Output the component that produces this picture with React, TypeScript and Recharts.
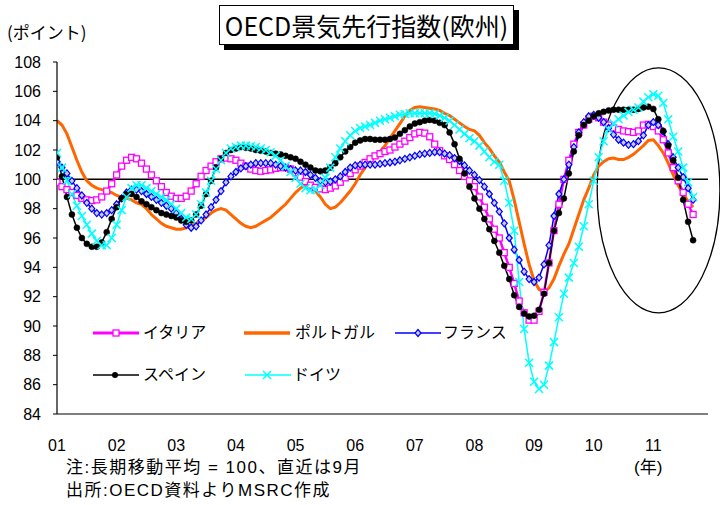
import React from 'react';
import { LineChart, Line, XAxis, YAxis, ReferenceLine, ReferenceArea, Legend } from 'recharts';

// Monthly values, Jan 2001 .. Sep 2011 (index 0 = 2001/01)
const italy = [
  99.8, 99.5, 99.3, 99.1, 98.9, 98.7, 98.6, 98.55, 98.6, 98.8, 99.2, 99.7,
  100.3, 100.9, 101.3, 101.5, 101.4, 101.1, 100.7, 100.3, 99.9, 99.5, 99.1, 98.85,
  98.7, 98.7, 98.85, 99.2, 99.7, 100.2, 100.6, 100.9, 101.2, 101.4, 101.45, 101.4,
  101.3, 101.1, 100.9, 100.7, 100.6, 100.55, 100.6, 100.65, 100.75, 100.8, 100.8, 100.7,
  100.45, 100.15, 99.85, 99.6, 99.45, 99.35, 99.3, 99.4, 99.55, 99.8, 100.1, 100.4,
  100.65, 100.9, 101.15, 101.4, 101.6, 101.75, 101.9, 102.0, 102.2, 102.4, 102.6, 102.85,
  103.1, 103.2, 103.15, 102.9, 102.4, 101.95, 101.6, 101.35, 101.0, 100.6, 100.2, 99.9,
  99.5, 98.8, 98.1, 97.3, 96.6, 96.0, 95.0, 94.0, 92.9, 91.7, 90.9, 90.4,
  90.4, 91.0, 92.3, 94.3, 96.5, 98.3, 100.0, 101.3, 102.4, 103.2, 103.7, 104.1,
  104.3, 104.2, 103.9, 103.7, 103.5, 103.4, 103.3, 103.25, 103.2, 103.3, 103.7, 103.75,
  103.6, 103.3, 102.7, 101.8, 100.8, 99.9, 99.1, 98.3, 97.6,
];

const portugal = [
  104.0, 103.7, 103.1, 102.2, 101.3, 100.5, 99.9, 99.6, 99.4, 99.3, 99.2, 99.1,
  98.9, 98.8, 98.7, 98.6, 98.4, 98.3, 98.0, 97.6, 97.3, 97.0, 96.8, 96.7,
  96.6, 96.6, 96.7, 96.8, 97.0, 97.2, 97.4, 97.7, 97.9, 98.0, 97.9, 97.6,
  97.3, 97.0, 96.8, 96.7, 96.8, 97.0, 97.2, 97.4, 97.7, 98.0, 98.3, 98.7,
  99.1, 99.4, 99.6, 99.5, 99.2, 98.8, 98.3, 98.0, 98.1, 98.4, 98.8, 99.2,
  99.7, 100.3, 100.8, 101.2, 101.6, 101.9, 102.3, 102.8, 103.3, 103.8, 104.3, 104.7,
  104.9, 104.95, 104.9, 104.85, 104.8, 104.7, 104.5, 104.35, 104.1, 103.85, 103.6, 103.4,
  103.3, 103.0, 102.5, 102.1, 101.6, 101.2, 100.5, 99.9, 98.6, 97.1, 95.6, 94.2,
  93.1, 92.5, 92.3, 92.6, 93.2, 94.1, 94.9, 95.6, 96.6, 97.6, 98.6, 99.4,
  100.3, 100.9, 101.2, 101.4, 101.45, 101.35, 101.35, 101.5, 101.7, 102.0, 102.3, 102.65,
  102.7, 102.3, 101.8, 101.1, 100.3, 99.6, 99.0, 98.5, 98.1,
];

const france = [
  101.2, 100.8, 100.4, 99.9, 99.4, 98.9, 98.4, 98.0, 97.7, 97.6, 97.7, 97.9,
  98.3, 98.7, 99.1, 99.3, 99.3, 99.2, 99.0, 98.8, 98.6, 98.4, 98.2, 98.0,
  97.7, 97.3, 96.9, 96.7, 96.8, 97.2, 97.6, 98.1, 98.6, 99.2, 99.8, 100.2,
  100.5, 100.75, 100.9, 101.0, 101.1, 101.1, 101.1, 101.1, 101.0, 100.9, 100.8, 100.7,
  100.6, 100.6, 100.5, 100.3, 100.1, 99.9, 99.8, 99.85, 100.0, 100.2, 100.5, 100.8,
  100.95, 101.0, 101.0, 101.0, 101.0, 101.05, 101.1, 101.15, 101.2, 101.3, 101.4, 101.5,
  101.6, 101.7, 101.75, 101.8, 101.85, 101.85, 101.75, 101.65, 101.45, 101.25, 100.95, 100.6,
  100.3, 99.95, 99.5, 99.0, 98.4, 97.8, 97.0, 96.0, 95.2, 94.5, 93.7, 93.2,
  93.0, 93.3, 94.2, 95.5, 97.5, 99.0, 100.0, 101.0, 102.2, 103.2, 103.9, 104.3,
  104.4, 104.2, 103.9, 103.5, 103.05, 102.7, 102.5, 102.35, 102.4, 102.6, 103.0, 103.7,
  103.9, 103.7, 103.25, 102.4, 101.5, 100.8, 100.15, 99.4, 98.6,
];

const spain = [
  101.5, 100.2, 98.8, 97.6, 96.7, 96.0, 95.6, 95.4, 95.4, 95.7, 96.4, 97.3,
  98.1, 98.7, 99.0, 99.0, 98.8, 98.5, 98.3, 98.1, 97.9, 97.7, 97.6, 97.5,
  97.4, 97.2, 97.1, 97.2, 97.6, 98.2, 99.0, 99.9, 100.8, 101.4, 101.8, 102.0,
  102.1, 102.2, 102.15, 102.1, 102.0, 101.95, 101.9, 101.8, 101.75, 101.7, 101.6, 101.5,
  101.4, 101.2, 101.0, 100.8, 100.6, 100.55, 100.6, 100.8, 101.1, 101.5, 101.9, 102.2,
  102.5, 102.65, 102.75, 102.75, 102.7, 102.7, 102.7, 102.75, 102.85, 103.1, 103.35, 103.6,
  103.8, 103.9, 104.0, 104.05, 104.0, 103.85, 103.7, 103.2, 102.4, 101.4, 100.4, 99.5,
  98.7, 98.0, 97.3, 96.6, 95.8, 95.0, 94.1, 93.2, 92.1, 91.3, 90.85, 90.65,
  90.7, 91.1, 92.2, 94.3, 96.5, 97.7, 98.7, 100.4, 101.9, 103.0, 103.7, 104.0,
  104.3, 104.5, 104.6, 104.7, 104.75, 104.75, 104.75, 104.75, 104.75, 104.8, 104.9, 104.95,
  104.8, 104.1, 103.3, 102.3, 101.3, 100.1, 98.6, 97.1, 95.85,
];

const germany = [
  101.8, 100.8, 99.9, 99.0, 98.2, 97.5, 96.9, 96.3, 95.8, 95.5, 95.5, 96.0,
  96.9, 97.9, 98.8, 99.4, 99.6, 99.6, 99.4, 99.2, 99.0, 98.8, 98.6, 98.3,
  98.0, 97.7, 97.4, 97.3, 97.6, 98.3, 99.1, 99.9, 100.7, 101.3, 101.8, 102.1,
  102.2, 102.3, 102.3, 102.25, 102.2, 102.1, 102.0, 101.85, 101.6, 101.3, 100.9, 100.5,
  100.1, 99.7, 99.4, 99.25, 99.3, 99.6, 100.1, 100.8, 101.5, 102.1, 102.6, 103.0,
  103.3, 103.5, 103.6, 103.7, 103.85, 104.0, 104.1, 104.2, 104.3, 104.4, 104.45, 104.5,
  104.5, 104.5, 104.5, 104.5, 104.45, 104.35, 104.2, 104.0, 103.7, 103.4, 103.1, 102.8,
  102.6, 102.3, 101.9, 101.5, 101.2, 101.0, 99.9, 98.4, 96.5, 93.0, 89.8, 87.5,
  86.2, 85.7, 86.0, 87.3, 88.9, 90.6, 92.2, 93.3, 94.3, 95.4, 96.8, 98.3,
  99.9, 101.5, 102.6, 103.4, 103.8, 104.1, 104.35, 104.6, 104.75, 104.9, 105.3, 105.6,
  105.8, 105.7, 105.2, 104.1, 102.9, 101.9, 100.8, 99.8, 98.8,
];

const yearTicks = [0, 12, 24, 36, 48, 60, 72, 84, 96, 108, 120];
const yearLabels = ['01', '02', '03', '04', '05', '06', '07', '08', '09', '10', '11'];
const yTicks = [84, 86, 88, 90, 92, 94, 96, 98, 100, 102, 104, 106, 108];

const seriesNames = ['イタリア', 'ポルトガル', 'フランス', 'スペイン', 'ドイツ'];

const data = italy.map((v, i) => ({
  m: i,
  italy: v,
  portugal: portugal[i],
  france: france[i],
  spain: spain[i],
  germany: germany[i],
}));

const MAGENTA = '#FF00FF';
const ORANGE = '#FF6600';
const BLUE = '#0000FF';
const CYAN = '#00FFFF';

const SquareDot = (p: any) =>
  p.cx == null ? null : (
    <rect key={`sq-${p.index}`} x={p.cx - 3} y={p.cy - 3} width={6} height={6} fill="#fff" stroke={MAGENTA} strokeWidth={1.3} />
  );
const DiamondDot = (p: any) =>
  p.cx == null ? null : (
    <polygon
      key={`dm-${p.index}`}
      points={`${p.cx},${p.cy - 3.5} ${p.cx + 3},${p.cy} ${p.cx},${p.cy + 3.5} ${p.cx - 3},${p.cy}`}
      fill="#ccd" stroke={BLUE} strokeWidth={1.2}
    />
  );
const CircleDot = (p: any) =>
  p.cx == null ? null : <circle key={`ci-${p.index}`} cx={p.cx} cy={p.cy} r={3} fill="#000" stroke="#000" strokeWidth={0.5} />;
const CrossDot = (p: any) =>
  p.cx == null ? null : (
    <path key={`cr-${p.index}`} d={`M${p.cx - 4},${p.cy - 4}L${p.cx + 4},${p.cy + 4}M${p.cx - 4},${p.cy + 4}L${p.cx + 4},${p.cy - 4}`} stroke={CYAN} strokeWidth={1.5} />
  );

const EllipseShape = (p: any) => (
  <ellipse cx={p.x + p.width / 2} cy={p.y + p.height / 2} rx={p.width / 2} ry={p.height / 2} fill="none" stroke="#000" strokeWidth={1.3} />
);

const legendItems = [
  { name: seriesNames[0], left: 93, top: 333, color: MAGENTA, w: 3, marker: 'square', tx: 143 },
  { name: seriesNames[1], left: 244, top: 333, color: ORANGE, w: 3.5, marker: 'none', tx: 295 },
  { name: seriesNames[2], left: 395, top: 333, color: BLUE, w: 1.5, marker: 'diamond', tx: 443 },
  { name: seriesNames[3], left: 93, top: 375, color: '#000', w: 1.5, marker: 'circle', tx: 143 },
  { name: seriesNames[4], left: 245, top: 375, color: CYAN, w: 1.5, marker: 'cross', tx: 293 },
];

const LegendContent = () => (
  <div style={{ position: 'relative', width: 720, height: 505, pointerEvents: 'none' }}>
    {legendItems.map((it) => (
      <React.Fragment key={it.name}>
        <svg style={{ position: 'absolute', left: it.left, top: it.top - 7 }} width={46} height={14}>
          <line x1={0} y1={7} x2={46} y2={7} stroke={it.color} strokeWidth={it.w} />
          {it.marker === 'square' && <rect x={20} y={4} width={6} height={6} fill="#fff" stroke={it.color} strokeWidth={1.3} />}
          {it.marker === 'diamond' && <polygon points="23,3.5 26,7 23,10.5 20,7" fill="#ccd" stroke={it.color} strokeWidth={1.2} />}
          {it.marker === 'circle' && <circle cx={22} cy={7} r={3} fill="#000" />}
          {it.marker === 'cross' && <path d="M18,3L26,11M18,11L26,3" stroke={it.color} strokeWidth={1.5} />}
        </svg>
        <span style={{ position: 'absolute', left: it.tx, top: it.top - 12, fontSize: 16, lineHeight: '24px', color: '#000', whiteSpace: 'nowrap' }}>
          {it.name}
        </span>
      </React.Fragment>
    ))}
  </div>
);

const font = '"Liberation Sans", Arial, "Noto Sans CJK JP", sans-serif';
const jpFont = '"Noto Sans CJK JP", "Liberation Sans", sans-serif';

export default function App() {
  return (
    <div style={{ position: 'absolute', left: 0, top: 0, width: 720, height: 505, background: '#fff', fontFamily: font }}>
      <LineChart width={720} height={505} data={data} margin={{ top: 62, right: 12, bottom: 61, left: 0 }}>
        <XAxis
          dataKey="m"
          type="number"
          domain={[0, 131]}
          ticks={yearTicks}
          tickFormatter={(v: number) => yearLabels[yearTicks.indexOf(v)] ?? ''}
          tickLine={false}
          tickSize={6}
          tickMargin={20}
          height={30}
          axisLine={{ stroke: '#000', strokeWidth: 1.2 }}
          tick={{ fill: '#000', fontSize: 16 }}
          allowDataOverflow
        />
        <YAxis
          type="number"
          domain={[84, 108]}
          ticks={yTicks}
          width={57}
          tickSize={4}
          tickMargin={12}
          axisLine={{ stroke: '#000', strokeWidth: 1.2 }}
          tickLine={{ stroke: '#000' }}
          tick={{ fill: '#000', fontSize: 16 }}
          allowDataOverflow
        />
        <ReferenceLine y={100} stroke="#000" strokeWidth={1.5} />
        <Line dataKey="italy" name={seriesNames[0]} stroke={MAGENTA} strokeWidth={2.5} dot={SquareDot} isAnimationActive={false} />
        <Line dataKey="portugal" name={seriesNames[1]} stroke={ORANGE} strokeWidth={3} dot={false} isAnimationActive={false} />
        <Line dataKey="france" name={seriesNames[2]} stroke={BLUE} strokeWidth={1.5} dot={DiamondDot} isAnimationActive={false} />
        <Line dataKey="spain" name={seriesNames[3]} stroke="#000" strokeWidth={1.5} dot={CircleDot} isAnimationActive={false} />
        <Line dataKey="germany" name={seriesNames[4]} stroke={CYAN} strokeWidth={1.5} dot={CrossDot} isAnimationActive={false} />
        <ReferenceArea x1={108.7} x2={133.4} y1={90.9} y2={107.6} ifOverflow="visible" shape={EllipseShape} />
        <Legend
          content={LegendContent}
          layout="horizontal"
          verticalAlign="middle"
          align="center"
          wrapperStyle={{ left: 0, top: 0, width: 720, height: 505 }}
        />
      </LineChart>

      <div
        style={{
          position: 'absolute', left: 219, top: 5, width: 295, height: 40, boxSizing: 'border-box',
          border: '1px solid #000', background: '#fff', boxShadow: '5px 5px 0 #000',
          display: 'flex', alignItems: 'center', justifyContent: 'center',
          fontFamily: jpFont, fontSize: 25, color: '#000', whiteSpace: 'nowrap',
        }}
      >
        OECD景気先行指数(欧州)
      </div>
      <div style={{ position: 'absolute', left: 7, top: 19, fontFamily: jpFont, fontSize: 17, color: '#000', whiteSpace: 'nowrap' }}>
        (ポイント)
      </div>
      <div style={{ position: 'absolute', left: 66, top: 458, height: 20, fontFamily: font, fontSize: 17, lineHeight: '20px', letterSpacing: 1.5, color: '#000', whiteSpace: 'nowrap' }}>
        注:長期移動平均 = 100、直近は9月
      </div>
      <div style={{ position: 'absolute', left: 634, top: 458, height: 20, fontFamily: font, fontSize: 17, lineHeight: '20px', color: '#000', whiteSpace: 'nowrap' }}>
        (年)
      </div>
      <div style={{ position: 'absolute', left: 66, top: 481, height: 20, fontFamily: font, fontSize: 17, lineHeight: '20px', letterSpacing: 1.5, color: '#000', whiteSpace: 'nowrap' }}>
        出所:OECD資料よりMSRC作成
      </div>
    </div>
  );
}
